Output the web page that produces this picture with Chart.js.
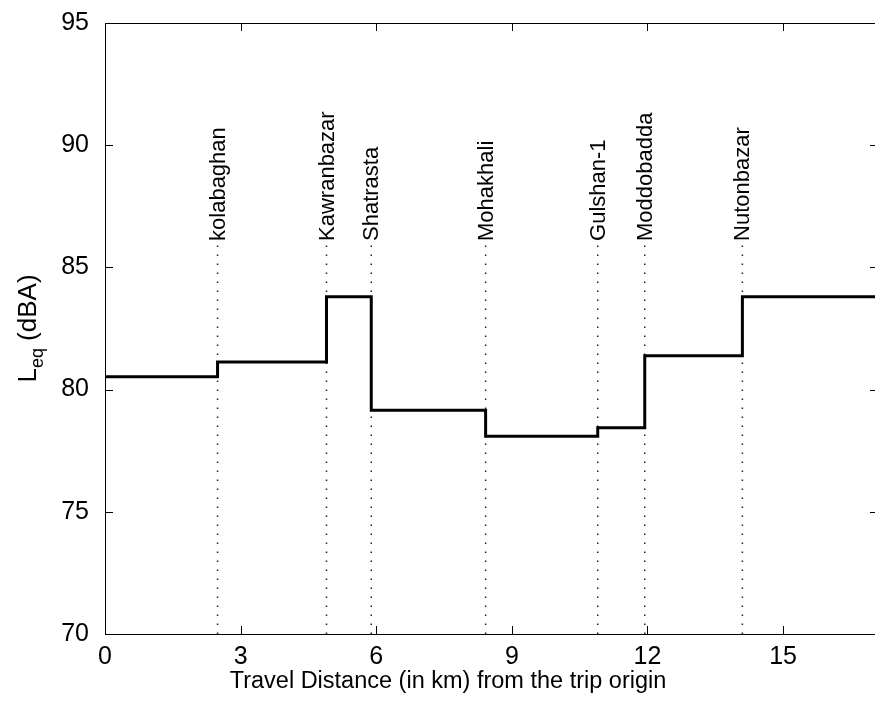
<!DOCTYPE html>
<html>
<head>
<meta charset="utf-8">
<title>Leq along the trip</title>
<script src="https://cdn.jsdelivr.net/npm/chart.js@4.4.1/dist/chart.umd.min.js"></script>
<style>
  html, body { margin: 0; padding: 0; background: #fff; overflow: hidden; }
</style>
</head>
<body>
<canvas id="chart" width="878" height="709"></canvas>
<script>
// stops along the route (km from the trip origin)
const stations = ["kolabaghan", "Kawranbazar", "Shatrasta", "Mohakhali", "Gulshan-1", "Moddobadda", "Nutonbazar"];
const stationKm = [2.49, 4.9, 5.89, 8.42, 10.9, 11.94, 14.1];

// Leq (dBA) held over each stretch, stretch i starts at segmentStartKm[i]
const segmentStartKm = [0, 2.49, 4.9, 5.89, 8.42, 10.9, 11.94, 14.1];
const leqValues = [80.53, 81.13, 83.8, 79.16, 78.09, 78.44, 81.39, 83.8];
const tripEndKm = 17.1;

const xTicks = [0, 3, 6, 9, 12, 15];
const yTicks = [70, 75, 80, 85, 90, 95];
const stationMarkTop = 86;   // dotted markers run from the floor up to this level
const xTitle = "Travel Distance (in km) from the trip origin";

const FONT = 'Arial, "Liberation Sans", Helvetica, sans-serif';
Chart.defaults.font.family = FONT;
Chart.defaults.color = "#000";

// step line: each value holds until the next stop, last one runs to the end
const stepPoints = segmentStartKm.map((km, i) => ({ x: km, y: leqValues[i] }));
stepPoints.push({ x: tripEndKm, y: leqValues[leqValues.length - 1] });

const markerSets = stationKm.map(km => ({
  data: [{ x: km, y: 70 }, { x: km, y: stationMarkTop }],
  borderColor: "#222",
  borderWidth: 1.5,
  borderDash: [1.5, 7.5],
  pointRadius: 0,
  tension: 0
}));

// box, inward ticks, station names and both axis titles
const frame = {
  id: "frame",
  afterDatasetsDraw(chart) {
    const { ctx, chartArea: a, scales: { x, y } } = chart;
    ctx.save();
    ctx.strokeStyle = "#000";
    ctx.lineWidth = 1;
    ctx.strokeRect(a.left + 0.5, a.top + 0.5, a.right - a.left, a.bottom - a.top);

    ctx.beginPath();
    xTicks.forEach(v => {
      const px = Math.round(x.getPixelForValue(v)) + 0.5;
      ctx.moveTo(px, a.bottom); ctx.lineTo(px, a.bottom - 8);
      ctx.moveTo(px, a.top); ctx.lineTo(px, a.top + 8);
    });
    yTicks.forEach(v => {
      const py = Math.round(y.getPixelForValue(v)) + 0.5;
      ctx.moveTo(a.left, py); ctx.lineTo(a.left + 8, py);
      ctx.moveTo(a.right, py); ctx.lineTo(a.right - 8, py);
    });
    ctx.stroke();

    // station names, rotated, sitting on top of their markers
    ctx.fillStyle = "#000";
    ctx.font = "22px " + FONT;
    ctx.textAlign = "left";
    ctx.textBaseline = "middle";
    stations.forEach((name, i) => {
      ctx.save();
      ctx.translate(x.getPixelForValue(stationKm[i]), y.getPixelForValue(stationMarkTop) - 2);
      ctx.rotate(-Math.PI / 2);
      ctx.fillText(name, 0, 1);
      ctx.restore();
    });

    // x title
    ctx.font = "23.5px " + FONT;
    ctx.textAlign = "center";
    ctx.textBaseline = "middle";
    ctx.fillText(xTitle, 448, 682);

    // L_eq (dBA) with subscript
    ctx.textAlign = "left";
    const big = "26px " + FONT, small = "18px " + FONT;
    ctx.font = big;
    const wL = ctx.measureText("L").width;
    const wTail = ctx.measureText(" (dBA)").width;
    ctx.font = small;
    const wSub = ctx.measureText("eq").width;
    const total = wL + wSub + wTail;
    ctx.save();
    ctx.translate(36, (a.top + a.bottom) / 2);
    ctx.rotate(-Math.PI / 2);
    ctx.textBaseline = "alphabetic";
    let pos = -total / 2;
    ctx.font = big;
    ctx.fillText("L", pos, 0);
    pos += wL;
    ctx.font = small;
    ctx.fillText("eq", pos, 7);
    pos += wSub;
    ctx.font = big;
    ctx.fillText(" (dBA)", pos, 0);
    ctx.restore();

    ctx.restore();
  }
};

new Chart(document.getElementById("chart"), {
  type: "line",
  data: {
    datasets: [
      {
        data: stepPoints,
        stepped: true,
        borderColor: "#000",
        borderWidth: 3,
        pointRadius: 0
      },
      ...markerSets
    ]
  },
  options: {
    responsive: false,
    animation: false,
    layout: { padding: { top: 23, right: 0, bottom: 0, left: 0 } },
    plugins: { legend: { display: false }, tooltip: { enabled: false } },
    scales: {
      x: {
        type: "linear",
        min: 0,
        max: tripEndKm,
        afterBuildTicks: s => { s.ticks = xTicks.map(v => ({ value: v })); },
        afterFit: s => { s.height = 75; },
        grid: { display: false },
        border: { display: false },
        ticks: { font: { size: 25 }, padding: 0, maxRotation: 0, autoSkip: false }
      },
      y: {
        min: 70,
        max: 95,
        afterBuildTicks: s => { s.ticks = yTicks.map(v => ({ value: v })); },
        afterFit: s => { s.width = 105; },
        grid: { display: false },
        border: { display: false },
        ticks: { font: { size: 25 }, padding: 8 }
      }
    }
  },
  plugins: [frame]
});
</script>
</body>
</html>
